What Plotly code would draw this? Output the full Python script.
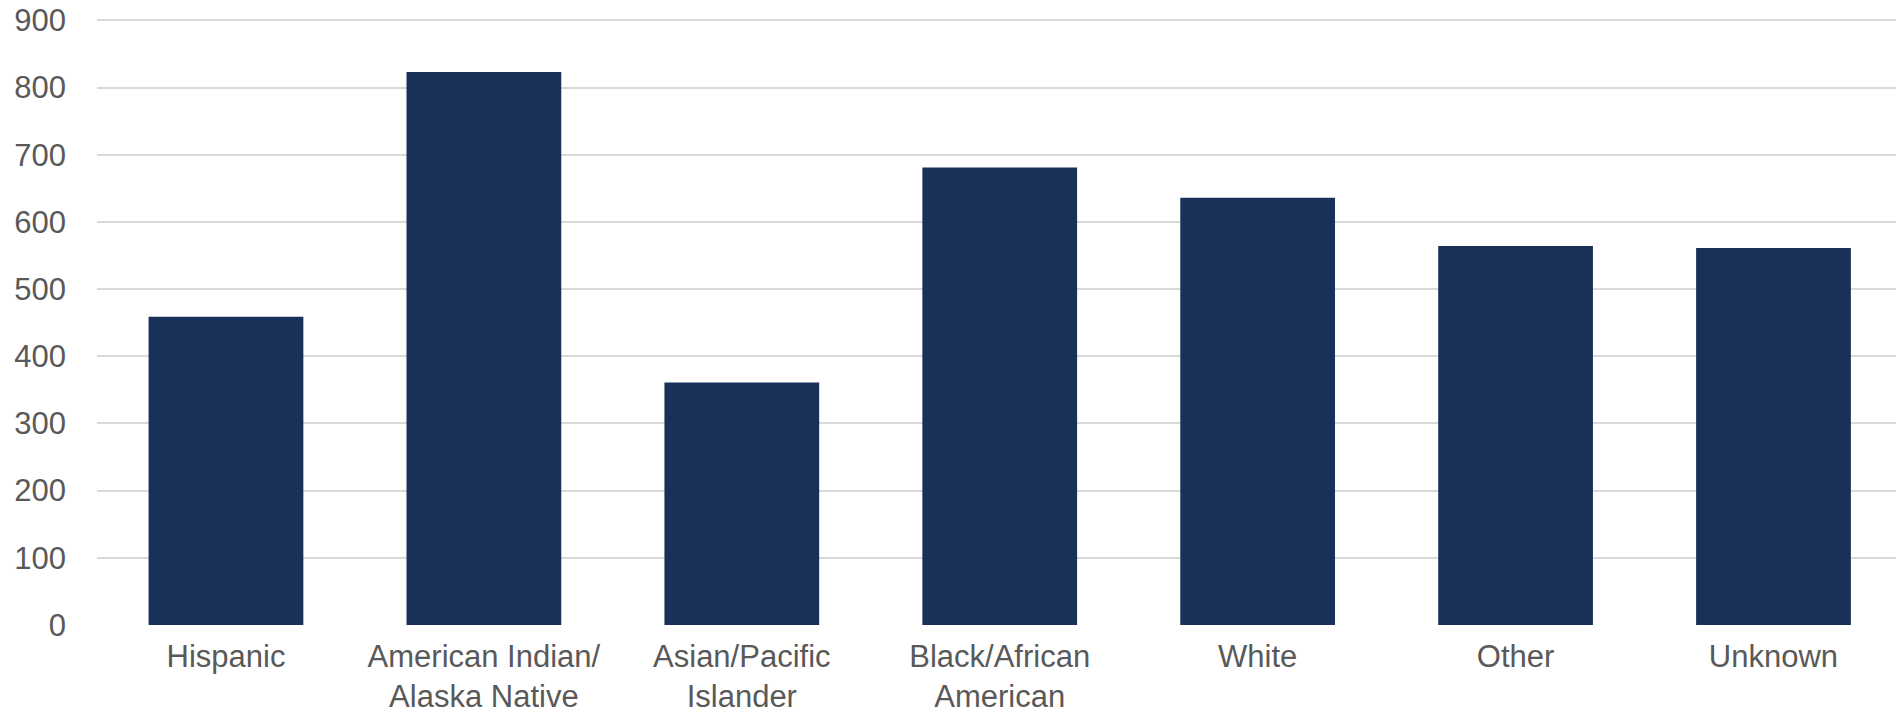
import plotly.graph_objects as go

categories = ["Hispanic", "American Indian/<br>Alaska Native", "Asian/Pacific<br>Islander",
              "Black/African<br>American", "White", "Other", "Unknown"]
values = [459, 823, 361, 681, 636, 564, 561]
y_ticks = [0, 100, 200, 300, 400, 500, 600, 700, 800, 900]

fig = go.Figure(go.Bar(
    x=list(range(len(categories))),
    y=values,
    marker=dict(color="#193059", line=dict(width=0)),
))

fig.update_layout(
    width=1896, height=715,
    margin=dict(l=97, r=0, t=19, b=90, autoexpand=False),
    paper_bgcolor="white", plot_bgcolor="white",
    bargap=0.4,
    showlegend=False,
    font=dict(family="Liberation Sans, Arial, sans-serif", size=31, color="#595959"),
)
fig.update_xaxes(
    tickmode="array", tickvals=list(range(len(categories))), ticktext=categories,
    range=[-0.5, 6.475], showgrid=False, zeroline=False, showline=False,
    ticks="", ticklabelstandoff=10, automargin=False,
    tickfont=dict(size=31),
)
fig.update_yaxes(
    range=[0, 902], tickmode="array", tickvals=y_ticks,
    showgrid=True, gridcolor="#d9d9d9", gridwidth=1.5,
    zeroline=False, showline=False, ticks="", ticklabelstandoff=30, automargin=False,
    tickfont=dict(size=31),
)

fig.write_html("out.html", config={"displayModeBar": False},
               post_script="document.body.style.margin='0';")
